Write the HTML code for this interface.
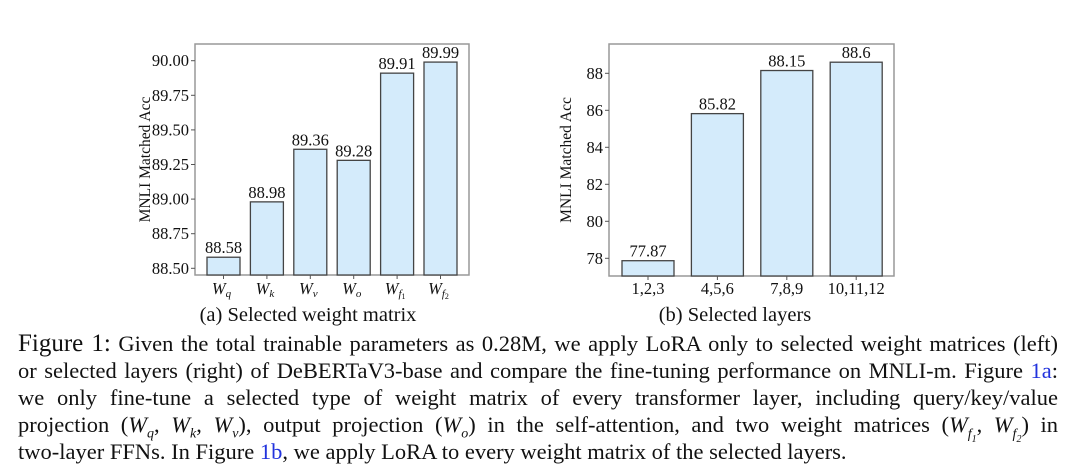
<!DOCTYPE html>
<html><head><meta charset="utf-8"><style>
body{margin:0;width:1080px;height:476px;background:#fff;overflow:hidden;position:relative;font-family:"Liberation Serif",serif;color:#111}
svg{position:absolute;left:0;top:0}
.ln{position:absolute;left:18px;width:1040px;font-size:22.5px;white-space:nowrap;text-align:justify;text-align-last:justify;line-height:27px}
.ln.last{text-align-last:left}
.big{font-size:25px}
i{font-style:italic}
sub{line-height:0}
.blue{color:#2233dd}
</style></head><body>
<svg width="1080" height="330" id="svg"></svg>
<div class="ln" style="top:330px"><span class="big">Figure 1:</span> Given the total trainable parameters as 0.28M, we apply LoRA only to selected weight matrices (left)</div>
<div class="ln" style="top:357px">or selected layers (right) of DeBERTaV3-base and compare the fine-tuning performance on MNLI-m. Figure <span class="blue">1a</span>:</div>
<div class="ln" style="top:384px">we only fine-tune a selected type of weight matrix of every transformer layer, including query/key/value</div>
<div class="ln" style="top:411px">projection (<i>W<sub style="font-size:14px">q</sub></i>, <i>W<sub style="font-size:14px">k</sub></i>, <i>W<sub style="font-size:14px">v</sub></i>), output projection (<i>W<sub style="font-size:14px">o</sub></i>) in the self-attention, and two weight matrices (<i>W<sub style="font-size:14px">f<sub style="font-size:10px">1</sub></sub></i>, <i>W<sub style="font-size:14px">f<sub style="font-size:10px">2</sub></sub></i>) in</div>
<div class="ln last" style="top:438px">two-layer FFNs. In Figure <span class="blue">1b</span>, we apply LoRA to every weight matrix of the selected layers.</div>
<script>
const catsA=["q","k","v","o","f1","f2"];
const valsA=[88.58,88.98,89.36,89.28,89.91,89.99];
const ticksA=[88.50,88.75,89.00,89.25,89.50,89.75,90.00];
const catsB=["1,2,3","4,5,6","7,8,9","10,11,12"];
const valsB=[77.87,85.82,88.15,88.6];
const ticksB=[78,80,82,84,86,88];
const labelsB=["77.87","85.82","88.15","88.6"];
const NS="http://www.w3.org/2000/svg";
const svg=document.getElementById('svg');
function mk(t,a,txt){const e=document.createElementNS(NS,t);for(const k in a)e.setAttribute(k,a[k]);if(txt!==undefined)e.textContent=txt;svg.appendChild(e);return e;}
function chart(o){
  const y=v=>o.y0+(v-o.v0)*(o.y1-o.y0)/(o.v1-o.v0);
  const f=mk('rect',{x:o.L,y:o.T,width:o.R-o.L,height:o.B-o.T,fill:'none',stroke:'#999','stroke-width':1.5});
  
  o.ticks.forEach(t=>{
    const l=mk('line',{x1:o.L-4,x2:o.L,y1:y(t),y2:y(t),stroke:'#555'});
    
    const tx=mk('text',{x:o.L-6,y:y(t)+5.5,'text-anchor':'end','font-size':16.5,fill:'#111'},o.fmt(t));
    
  });
  const yt=mk('text',{x:0,y:0,'text-anchor':'middle','font-size':15.5,fill:'#111',transform:`translate(${o.L-o.tt},${(o.T+o.B)/2}) rotate(-90)`},'MNLI Matched Acc');
  
  o.vals.forEach((v,i)=>{
    const cx=o.c0+i*o.step;
    const r=mk('rect',{x:cx-o.bw/2,y:y(v),width:o.bw,height:o.B-y(v),fill:'#d4ebfb',stroke:'#444','stroke-width':1.3});
    
    const t=mk('text',{x:cx,y:y(v)-4,'text-anchor':'middle','font-size':16.5,fill:'#111'},o.lab(v,i));
    
    const tk=mk('line',{x1:cx,x2:cx,y1:o.B,y2:o.B+4,stroke:'#555'});
    
    const c=o.cats[i];let xl;
    if(o.math){xl=mk('text',{x:cx-2,y:o.B+19,'text-anchor':'middle','font-size':16.5,'font-style':'italic',fill:'#111'});
      const m=c.match(/^([a-z])(\d?)$/);
      const s1=document.createElementNS(NS,'tspan');s1.textContent='W';xl.appendChild(s1);
      const s2=document.createElementNS(NS,'tspan');s2.setAttribute('font-size',11);s2.setAttribute('dy',3);s2.textContent=m[1];xl.appendChild(s2);
      if(m[2]){const s3=document.createElementNS(NS,'tspan');s3.setAttribute('font-size',8);s3.setAttribute('dy',2);s3.setAttribute('font-style','normal');s3.textContent=m[2];xl.appendChild(s3);}
    } else xl=mk('text',{x:cx,y:o.B+18,'text-anchor':'middle','font-size':16.5,fill:'#111'},c);
    
  });
  const cap=mk('text',{x:o.capx,y:321,'text-anchor':'middle','font-size':20.5,fill:'#111'},o.cap);
  
}
chart({n:'chart-a',L:195,R:469,T:44,B:275,v0:88.5,y0:268.3,v1:90,y1:60.7,ticks:ticksA,fmt:t=>t.toFixed(2),vals:valsA,cats:catsA,c0:223.5,step:43.4,bw:33,lab:v=>v.toFixed(2),math:true,cap:'(a) Selected weight matrix',capx:308,tt:45});
chart({n:'chart-b',L:609,R:894,T:44,B:276,v0:78,y0:258.3,v1:88,y1:73.3,ticks:ticksB,fmt:t=>String(t),vals:valsB,cats:catsB,c0:648,step:69.4,bw:52,lab:(v,i)=>labelsB[i],math:false,cap:'(b) Selected layers',capx:735,tt:38});
</script>
</body></html>
